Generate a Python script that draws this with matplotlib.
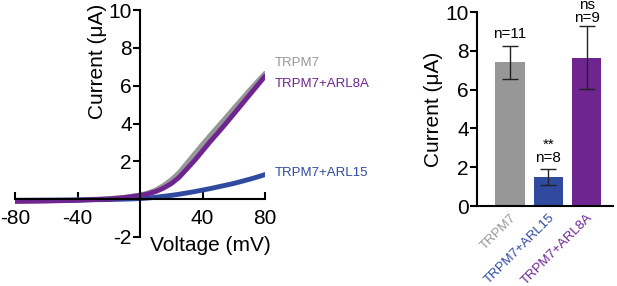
import matplotlib.pyplot as plt

plt.rcParams['font.family'] = ['Liberation Sans', 'DejaVu Sans']
plt.rcParams['axes.unicode_minus'] = False

# I-V curves
voltage = [-80, -60, -40, -20, -10, 0, 5, 10, 15, 20, 25, 30, 35, 40, 45, 50, 55, 60, 65, 70, 75, 80]
trpm7 = [-0.1, -0.08, -0.05, 0.03, 0.1, 0.22, 0.32, 0.48, 0.72, 1.02, 1.4, 1.9, 2.4, 2.9,
         3.38, 3.85, 4.32, 4.8, 5.27, 5.75, 6.2, 6.65]
trpm7_arl8a = [-0.12, -0.1, -0.06, 0.01, 0.08, 0.2, 0.28, 0.4, 0.58, 0.82, 1.15, 1.6, 2.05, 2.55,
               3.05, 3.52, 4.0, 4.5, 5.0, 5.5, 6.0, 6.5]
trpm7_arl15 = [-0.06, -0.05, -0.04, -0.02, 0.0, 0.03, 0.06, 0.1, 0.15, 0.2, 0.26, 0.33, 0.4, 0.48,
               0.56, 0.65, 0.74, 0.83, 0.94, 1.05, 1.17, 1.3]

# bar summary
groups = ['TRPM7', 'TRPM7+ARL15', 'TRPM7+ARL8A']
means = [7.4, 1.5, 7.65]
errs = [0.85, 0.4, 1.62]
n_labels = ['n=11', 'n=8', 'n=9']
sig = ['', '**', 'ns']

gray = '#979797'
blue = '#2f4a9f'
purple = '#6e2590'
cols = [gray, blue, purple]

fig = plt.figure(figsize=(6.17, 2.86), dpi=100)

# ---- left panel
ax = fig.add_axes([15/617, 1 - 237/286, 250/617, 227/286])
ax.plot(voltage, trpm7, color=gray, lw=3.5, solid_capstyle='round')
ax.plot(voltage, trpm7_arl15, color=blue, lw=3.5, solid_capstyle='round')
ax.plot(voltage, trpm7_arl8a, color=purple, lw=3.5, solid_capstyle='round')
ax.set_xlim(-80, 80)
ax.set_ylim(-2, 10)
ax.spines['left'].set_position(('data', 0))
ax.spines['bottom'].set_position(('data', 0))
ax.spines['top'].set_visible(False)
ax.spines['right'].set_visible(False)
for s in ['left', 'bottom']:
    ax.spines[s].set_linewidth(1.5)
ax.set_xticks([-80, -40, 40, 80])
ax.set_yticks([-2, 2, 4, 6, 8, 10])
ax.tick_params(axis='x', direction='in', length=5, width=1.5, labelsize=15, pad=7)
ax.tick_params(axis='y', direction='out', length=5, width=1.5, labelsize=15, pad=1)
ax.patch.set_visible(False)
ax.text(-27.5, 7.3, 'Current (\u03bcA)', rotation=90, ha='center', va='center', fontsize=15)
ax.text(44.8, -2.45, 'Voltage (mV)', ha='center', va='center', fontsize=15, clip_on=False)
ax.text(86, 7.2, 'TRPM7', color=gray, fontsize=9.5, va='center', clip_on=False)
ax.text(86, 6.1, 'TRPM7+ARL8A', color=purple, fontsize=9.5, va='center', clip_on=False)
ax.text(86, 1.37, 'TRPM7+ARL15', color=blue, fontsize=9.5, va='center', clip_on=False)

# ---- right panel
ax2 = fig.add_axes([477/617, 1 - 206/286, 136/617, 194/286])
xpos = list(range(len(groups)))
ax2.bar(xpos, means, width=0.76, color=cols)
ax2.errorbar(xpos, means, yerr=errs, fmt='none', ecolor='#222222', elinewidth=1, capsize=6, capthick=1)
ax2.set_xlim(-0.86, 2.68)
ax2.set_ylim(0, 10)
ax2.spines['top'].set_visible(False)
ax2.spines['right'].set_visible(False)
for s in ['left', 'bottom']:
    ax2.spines[s].set_linewidth(1.5)
ax2.set_yticks([0, 2, 4, 6, 8, 10])
ax2.tick_params(axis='y', direction='out', length=5, width=1.5, labelsize=15, pad=1)
ax2.set_xticks(xpos)
ax2.set_xticklabels(groups, rotation=45, ha='right', rotation_mode='anchor', fontsize=9.5)
ax2.tick_params(axis='x', length=0, pad=4)
for lbl, c in zip(ax2.get_xticklabels(), cols):
    lbl.set_color(c)
ax2.set_ylabel('Current (\u03bcA)', fontsize=15, labelpad=2)
for i in xpos:
    top = means[i] + errs[i]
    # the tall ARL8A bar leaves little room, labels sit tighter there
    gap = 0.6 if top < 9 else 0.42
    ax2.text(i, top + gap, n_labels[i], ha='center', va='center', fontsize=11, clip_on=False)
    if sig[i]:
        ax2.text(i, top + gap + 0.65, sig[i], ha='center', va='center', fontsize=11, clip_on=False)

fig.savefig('out.png', dpi=100)
